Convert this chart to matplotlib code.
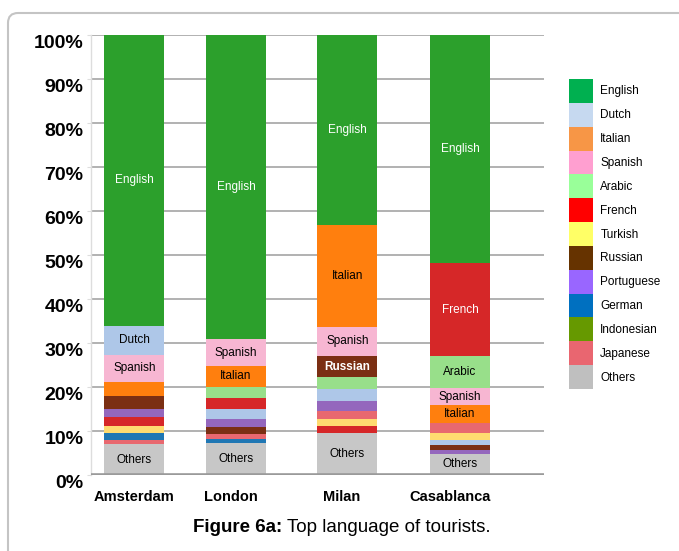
import numpy as np
import matplotlib
matplotlib.use('Agg')
import matplotlib.pyplot as plt
from matplotlib.patches import Patch, FancyBboxPatch
from matplotlib.transforms import IdentityTransform, ScaledTranslation

plt.rcParams['font.family'] = ['Liberation Sans', 'DejaVu Sans']

# Data
cities = ['Amsterdam', 'London', 'Milan', 'Casablanca']
languages = ['English', 'Dutch', 'Italian', 'Spanish', 'Arabic', 'French', 'Turkish',
             'Russian', 'Portuguese', 'German', 'Indonesian', 'Japanese', 'Others']

# share of tourists (%), listed bottom to top as stacked in each bar
ams_langs = ['Others', 'Japanese', 'German', 'Turkish', 'French', 'Portuguese',
             'Russian', 'Italian', 'Spanish', 'Dutch', 'English']
ams_vals = [7.0, 1.0, 1.5, 1.7, 1.9, 1.9, 3.0, 3.2, 6.1, 6.6, 66.1]

lon_langs = ['Others', 'German', 'Japanese', 'Russian', 'Portuguese', 'Dutch',
             'French', 'Arabic', 'Italian', 'Spanish', 'English']
lon_vals = [7.2, 0.9, 1.15, 1.55, 1.9, 2.3, 2.6, 2.5, 4.7, 6.0, 69.2]

mil_langs = ['Others', 'French', 'Turkish', 'Japanese', 'Portuguese', 'Dutch',
             'Arabic', 'Russian', 'Spanish', 'Italian', 'English']
mil_vals = [9.6, 1.6, 1.5, 1.9, 2.3, 2.6, 2.8, 4.7, 6.7, 23.1, 43.2]

cas_langs = ['Others', 'Portuguese', 'Russian', 'Dutch', 'Turkish', 'Japanese',
             'Italian', 'Spanish', 'Arabic', 'French', 'English']
cas_vals = [4.8, 0.9, 1.1, 1.15, 1.65, 2.15, 4.05, 4.0, 7.2, 21.1, 51.9]

stack_langs = [ams_langs, lon_langs, mil_langs, cas_langs]
stack_vals = [ams_vals, lon_vals, mil_vals, cas_vals]

# colours used in the bars
bar_colors = {
    'English': '#2ca02c', 'Dutch': '#aec7e8', 'Italian': '#ff7f0e',
    'Spanish': '#f7b6d2', 'Arabic': '#98df8a', 'French': '#d62728',
    'Turkish': '#ffdb70', 'Russian': '#7b2f13', 'Portuguese': '#9467bd',
    'German': '#1f77b4', 'Indonesian': '#6b9a1e', 'Japanese': '#e8686f',
    'Others': '#c7c7c7',
}
# colours used in the legend key
legend_colors = {
    'English': '#00b050', 'Dutch': '#c6d9f0', 'Italian': '#f79646',
    'Spanish': '#ff9fd0', 'Arabic': '#99ff99', 'French': '#ff0000',
    'Turkish': '#ffff66', 'Russian': '#663300', 'Portuguese': '#9966ff',
    'German': '#0070c0', 'Indonesian': '#669900', 'Japanese': '#e96670',
    'Others': '#bfbfbf',
}
white_text = ['English', 'French', 'Russian']

# layout
bar_pos = [0, 0.923, 1.936, 2.959]
label_pos = [0, 0.88, 1.88, 2.87]
bar_w = 0.545
W, H = 679, 551

fig = plt.figure(figsize=(W / 100, H / 100), dpi=100)
ax = fig.add_axes([91 / W, 1 - 475 / H, (544 - 91) / W, (475 - 35) / H])

for i in range(len(cities)):
    bottom = 0
    for lang, v in zip(stack_langs[i], stack_vals[i]):
        ax.bar(bar_pos[i], v, bar_w, bottom=bottom, color=bar_colors[lang],
               linewidth=0, zorder=3)
        if v >= 3.5:
            ax.text(bar_pos[i], bottom + v / 2, lang, ha='center', va='center',
                    fontsize=8.5, zorder=4,
                    color='white' if lang in white_text else 'black',
                    fontweight='bold' if lang == 'Russian' else 'normal')
        bottom += v

ax.set_xlim(-0.395, 3.723)
ax.set_ylim(0, 100)

# grid lines
for y in range(10, 101, 10):
    ax.axhline(y, color='#ababab', lw=1.3, zorder=1)
ax.axhline(0, color='#9a9a9a', lw=2.6, zorder=5)

ax.set_yticks(range(0, 101, 10))
ax.set_yticklabels([f'{t}%' for t in range(0, 101, 10)], fontsize=14, fontweight='bold')
ax.tick_params(axis='y', length=3, color='#dddddd', pad=2.5)
offset = ScaledTranslation(0, -5 / 72, fig.dpi_scale_trans)
for lbl in ax.get_yticklabels():
    lbl.set_transform(lbl.get_transform() + offset)

ax.set_xticks(label_pos)
ax.set_xticklabels(cities, fontsize=10.5, fontweight='bold')
ax.tick_params(axis='x', length=0, pad=11)

for s in ['top', 'right', 'bottom']:
    ax.spines[s].set_visible(False)
ax.spines['left'].set_color('#dddddd')
ax.spines['left'].set_linewidth(1)

# legend
handles = [Patch(facecolor=legend_colors[l], edgecolor='none') for l in languages]
fig.legend(handles, languages, loc='upper left', bbox_to_anchor=(569 / W, 1 - 79 / H),
           frameon=False, fontsize=8.5, handlelength=2.0, handleheight=2.73,
           labelspacing=0, handletextpad=0.65, borderpad=0, borderaxespad=0)

# caption
fig.text(282 / W, 1 - 527 / H, 'Figure 6a:', ha='right', va='center',
         fontsize=13.5, fontweight='bold')
fig.text(287 / W, 1 - 527 / H, 'Top language of tourists.', ha='left', va='center',
         fontsize=13.5)

# outer frame
frame = FancyBboxPatch((8, -20), 700, H - 13 + 20, boxstyle='round,pad=0,rounding_size=10',
                       transform=IdentityTransform(), facecolor='none',
                       edgecolor='#c4c4c4', lw=1.5)
fig.patches.append(frame)

fig.savefig('out.png', dpi=100)
